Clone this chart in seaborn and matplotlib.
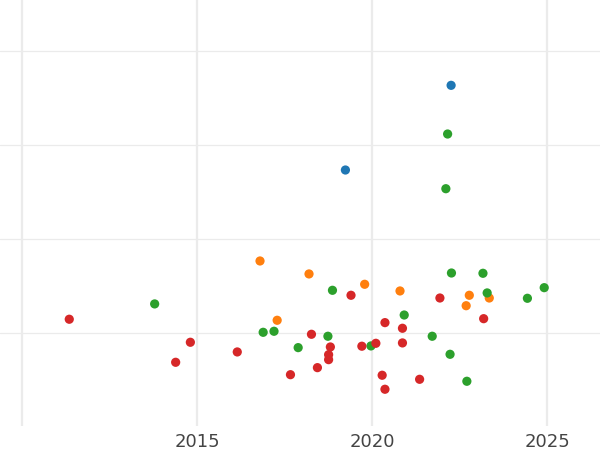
import numpy as np
import pandas as pd
import seaborn as sns
import matplotlib
matplotlib.use("Agg")
import matplotlib.pyplot as plt

# values
blue_x = [2022.26, 2019.24]
blue_y = [3.635, 2.734]

orange_x = [2016.80, 2017.29, 2018.20, 2019.79, 2020.80, 2022.78, 2022.69, 2023.35]
orange_y = [1.766, 1.135, 1.628, 1.518, 1.447, 1.401, 1.290, 1.372]

green_x = [2022.16, 2022.11, 2013.79, 2016.89, 2017.20, 2017.89, 2022.27, 2023.17, 2018.87,
           2023.29, 2024.92, 2024.44, 2020.92, 2018.74, 2021.72, 2019.97, 2022.23, 2022.71]
green_y = [3.117, 2.535, 1.309, 1.007, 1.018, 0.844, 1.638, 1.635, 1.454,
           1.426, 1.482, 1.369, 1.191, 0.965, 0.965, 0.862, 0.773, 0.486]

red_x = [2011.35, 2014.81, 2014.39, 2016.15, 2017.67, 2018.27, 2019.40, 2018.81, 2018.76,
         2018.76, 2018.44, 2019.71, 2020.11, 2020.37, 2020.87, 2020.87, 2020.29, 2020.37,
         2021.36, 2021.94, 2023.19]
red_y = [1.146, 0.901, 0.688, 0.798, 0.556, 0.986, 1.401, 0.851, 0.769,
         0.716, 0.631, 0.859, 0.890, 1.110, 1.050, 0.894, 0.550, 0.401,
         0.507, 1.372, 1.152]

groups = ["a", "b", "c", "d"]
xs = [blue_x, orange_x, green_x, red_x]
ys = [blue_y, orange_y, green_y, red_y]

df = pd.DataFrame({
    "year": np.concatenate(xs),
    "value": np.concatenate(ys),
    "group": np.concatenate([[g] * len(x) for g, x in zip(groups, xs)]),
})

sns.set_theme(style="whitegrid")
fig = plt.figure(figsize=(6, 4.5), dpi=100)
ax = fig.add_axes([0, 24 / 450, 1, 426 / 450])

sns.scatterplot(data=df, x="year", y="value", hue="group", hue_order=groups,
                palette=["#1f77b4", "#ff7f0e", "#2ca02c", "#d62728"],
                s=44, linewidth=0, legend=False, ax=ax, zorder=3)

ax.set_xlim(2009.371, 2026.514)
ax.set_ylim(0.01, 4.543)
ax.set_xticks([2010, 2015, 2020, 2025])
ax.set_xticklabels(["", "2015", "2020", "2025"])
ax.set_yticks([1, 2, 3, 4])
ax.set_yticklabels([])
ax.tick_params(axis="x", length=0, pad=5, labelsize=13, labelcolor="#444444")
ax.tick_params(axis="y", length=0)
ax.grid(axis="x", color="#ebebeb", linewidth=1.6)
ax.grid(axis="y", color="#ebebeb", linewidth=0.9)
ax.set_xlabel("")
ax.set_ylabel("")
for sp in ax.spines.values():
    sp.set_visible(False)

fig.savefig("out.png", dpi=100)
